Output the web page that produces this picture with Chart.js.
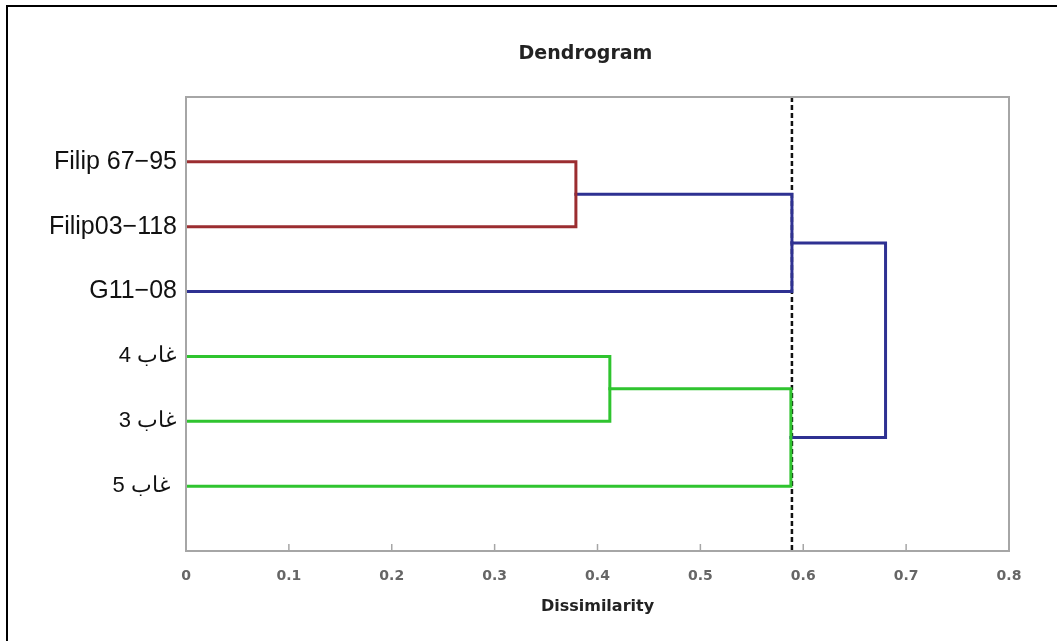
<!DOCTYPE html>
<html lang="en">
<head>
    <meta charset="UTF-8">
    <title>Dendrogram</title>
    <script src="https://cdn.jsdelivr.net/npm/chart.js"></script>
<style>
    html,body{margin:0;padding:0;background:#fff;overflow:hidden;}
    #frame{position:absolute;left:6px;top:5px;width:1100px;height:700px;border:2px solid #000;}
    #wrap{position:absolute;left:0;top:0;width:1057px;height:641px;}
</style>
</head>
<body>
    <div id="frame"></div>
    <div id="wrap">
        <canvas id="myChart"></canvas>
    </div>
    <script>
        // leaves, top to bottom
        const leafLabels = ['Filip 67\u221295', 'Filip03\u2212118', 'G11\u221208', '4 غاب', '3 غاب', '5 غاب '];
        // merges: node ids 0-5 are leaves, 6.. are merges in this order
        const childA = [0, 3, 6, 7, 8];
        const childB = [1, 4, 2, 5, 9];
        const mergeHeight = [0.379, 0.412, 0.589, 0.588, 0.680];
        const mergeColor = ['#9b2d30', '#2fc42f', '#2e3192', '#2fc42f', '#2e3192'];
        const cutHeight = 0.589;
        const xTicks = [0, 0.1, 0.2, 0.3, 0.4, 0.5, 0.6, 0.7, 0.8];

        // position + height of every node
        let nodeY = leafLabels.map((l, i) => i + 1);
        let nodeH = leafLabels.map(() => 0);
        let datasets = [];
        for (let i = 0; i < childA.length; i++) {
            let a = childA[i], b = childB[i], h = mergeHeight[i];
            datasets.push({
                data: [
                    {x: nodeH[a], y: nodeY[a]},
                    {x: h, y: nodeY[a]},
                    {x: h, y: nodeY[b]},
                    {x: nodeH[b], y: nodeY[b]}
                ],
                borderColor: mergeColor[i],
                borderWidth: 3,
                showLine: true,
                pointRadius: 0,
                tension: 0,
                borderCapStyle: 'square'
            });
            nodeY.push((nodeY[a] + nodeY[b]) / 2);
            nodeH.push(h);
        }
        // cut line
        datasets.push({
            data: [{x: cutHeight, y: 0}, {x: cutHeight, y: leafLabels.length + 1}],
            borderColor: '#111',
            borderWidth: 2.5,
            borderDash: [5, 3],
            showLine: true,
            pointRadius: 0
        });

        const boxPlugin = {
            id: 'box',
            afterDatasetsDraw(chart) {
                const c = chart.ctx, a = chart.chartArea, xs = chart.scales.x;
                c.save();
                c.strokeStyle = '#a6a6a6';
                c.lineWidth = 2;
                c.strokeRect(a.left, a.top, a.right - a.left, a.bottom - a.top);
                c.lineWidth = 1.5;
                xs.ticks.forEach(t => {
                    let px = xs.getPixelForValue(t.value);
                    c.beginPath();
                    c.moveTo(px, a.bottom);
                    c.lineTo(px, a.bottom - 7);
                    c.stroke();
                });
                // title
                c.fillStyle = '#222';
                c.font = 'bold 19px "DejaVu Sans"';
                c.textAlign = 'center';
                c.textBaseline = 'middle';
                c.fillText('Dendrogram', (a.left + a.right) / 2 - 12, a.top - 43);
                c.restore();
            }
        };

        const ctx = document.getElementById('myChart');
        new Chart(ctx, {
            type: 'scatter',
            data: {datasets: datasets},
            options: {
                responsive: true,
                maintainAspectRatio: false,
                animation: false,
                layout: {padding: {left: 0, right: 48, top: 97, bottom: 0}},
                plugins: {legend: {display: false}, tooltip: {enabled: false}},
                scales: {
                    x: {
                        type: 'linear',
                        min: 0,
                        max: 0.8,
                        afterBuildTicks: s => { s.ticks = xTicks.map(v => ({value: v})); },
                        afterFit: s => { s.height = 90; },
                        grid: {display: false, drawTicks: false},
                        border: {display: false},
                        ticks: {
                            padding: 17,
                            color: '#666',
                            font: {family: 'DejaVu Sans', size: 14, weight: 'bold'},
                            callback: v => String(Math.round(v * 10) / 10)
                        },
                        title: {
                            display: true,
                            text: 'Dissimilarity',
                            color: '#222',
                            font: {family: 'DejaVu Sans', size: 16, weight: 'bold'},
                            padding: {top: 4, bottom: 25}
                        }
                    },
                    y: {
                        type: 'linear',
                        min: 0,
                        max: leafLabels.length + 1,
                        reverse: true,
                        afterBuildTicks: s => { s.ticks = leafLabels.map((l, i) => ({value: i + 1})); },
                        afterFit: s => { s.width = 186; },
                        grid: {display: false, drawTicks: false},
                        border: {display: false},
                        ticks: {
                            padding: 9,
                            color: '#111',
                            font: c => ({family: 'Liberation Sans', size: c.index < 3 ? 25 : 22}),
                            callback: v => leafLabels[v - 1]
                        }
                    }
                }
            },
            plugins: [boxPlugin]
        });
    </script>
</body>
</html>
